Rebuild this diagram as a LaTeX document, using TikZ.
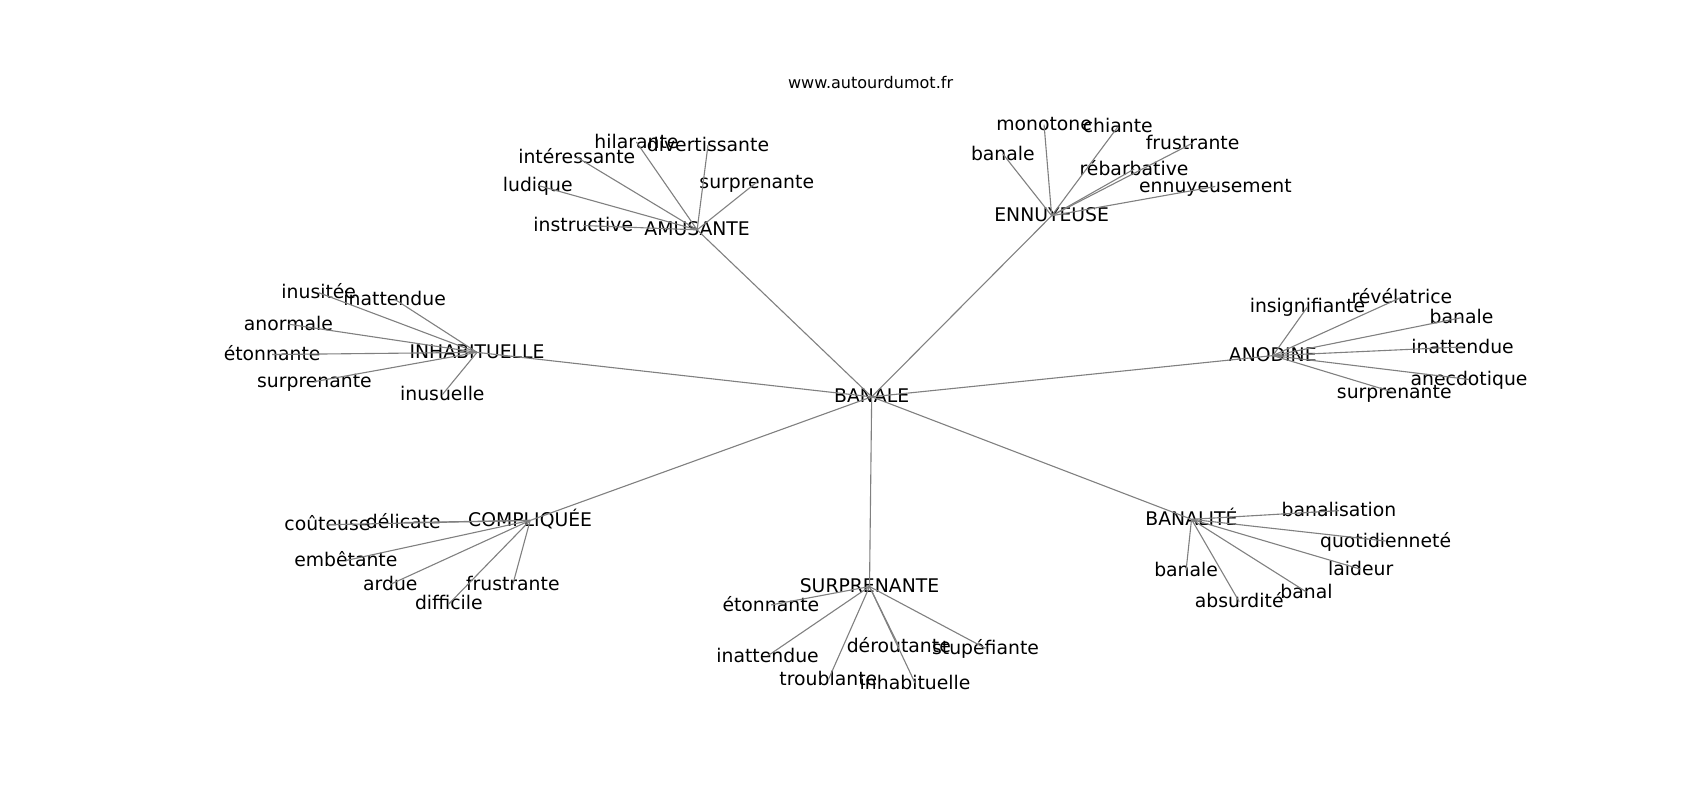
\documentclass[tikz,border=0pt]{standalone}
\usepackage{fontspec}
\setmainfont{DejaVu Sans}

\tikzstyle{word} = [inner sep=0pt, text height=1.12em, text depth=0.24em, font=\fontsize{13.6}{16}\selectfont]
\tikzstyle{head} = [inner sep=0pt, font=\fontsize{11.6}{14}\selectfont]
\tikzstyle{link} = [draw, black!50, line width=0.8pt]

\begin{document}
\begin{tikzpicture}[x=0.010842in, y=-0.010842in]

	\useasboundingbox (0,0) rectangle (1568,737.6);
	\node[head] (site) at (803,76) {www.autourdumot.fr};

	% Hubs
	\node[word] (banale) at (804,366) {BANALE};
	\node[word] (amusante) at (643,212) {AMUSANTE};
	\node[word] (ennuyeuse) at (970,199) {ENNUYEUSE};
	\node[word] (inhabituelle) at (440,325) {INHABITUELLE};
	\node[word] (anodine) at (1174,328) {ANODINE};
	\node[word] (compliquee) at (489,480) {COMPLIQUÉE};
	\node[word] (surprenante) at (802,541) {SURPRENANTE};
	\node[word] (banalite) at (1099,479) {BANALITÉ};
	\path[link] (banale.center) -- (amusante.center);
	\path[link] (banale.center) -- (ennuyeuse.center);
	\path[link] (banale.center) -- (inhabituelle.center);
	\path[link] (banale.center) -- (anodine.center);
	\path[link] (banale.center) -- (compliquee.center);
	\path[link] (banale.center) -- (surprenante.center);
	\path[link] (banale.center) -- (banalite.center);

	% Amusante
	\node[word] (am1) at (587,131) {hilarante};
	\node[word] (am2) at (653,134) {divertissante};
	\node[word] (am3) at (532,145) {intéressante};
	\node[word] (am4) at (496,171) {ludique};
	\node[word] (am5) at (698,168) {surprenante};
	\node[word] (am6) at (538,208) {instructive};
	\path[link] (am1.center) -- (amusante.center);
	\path[link] (am2.center) -- (amusante.center);
	\path[link] (am3.center) -- (amusante.center);
	\path[link] (am4.center) -- (amusante.center);
	\path[link] (am5.center) -- (amusante.center);
	\path[link] (am6.center) -- (amusante.center);

	% Ennuyeuse
	\node[word] (en1) at (963,115) {monotone};
	\node[word] (en2) at (1031,117) {chiante};
	\node[word] (en3) at (925,142) {banale};
	\node[word] (en4) at (1100,132) {frustrante};
	\node[word] (en5) at (1046,156) {rébarbative};
	\node[word] (en6) at (1121,172) {ennuyeusement};
	\path[link] (en1.center) -- (ennuyeuse.center);
	\path[link] (en2.center) -- (ennuyeuse.center);
	\path[link] (en3.center) -- (ennuyeuse.center);
	\path[link] (en4.center) -- (ennuyeuse.center);
	\path[link] (en5.center) -- (ennuyeuse.center);
	\path[link] (en6.center) -- (ennuyeuse.center);

	% Inhabituelle
	\node[word] (in1) at (294,270) {inusitée};
	\node[word] (in2) at (364,276) {inattendue};
	\node[word] (in3) at (266,299) {anormale};
	\node[word] (in4) at (251,327) {étonnante};
	\node[word] (in5) at (290,352) {surprenante};
	\node[word] (in6) at (408,364) {inusuelle};
	\path[link] (in1.center) -- (inhabituelle.center);
	\path[link] (in2.center) -- (inhabituelle.center);
	\path[link] (in3.center) -- (inhabituelle.center);
	\path[link] (in4.center) -- (inhabituelle.center);
	\path[link] (in5.center) -- (inhabituelle.center);
	\path[link] (in6.center) -- (inhabituelle.center);

	% Anodine
	\node[word] (an1) at (1206,283) {insignifiante};
	\node[word] (an2) at (1293,274) {révélatrice};
	\node[word] (an3) at (1348,293) {banale};
	\node[word] (an4) at (1349,320) {inattendue};
	\node[word] (an5) at (1355,350) {anecdotique};
	\node[word] (an6) at (1286,362) {surprenante};
	\path[link] (an1.center) -- (anodine.center);
	\path[link] (an2.center) -- (anodine.center);
	\path[link] (an3.center) -- (anodine.center);
	\path[link] (an4.center) -- (anodine.center);
	\path[link] (an5.center) -- (anodine.center);
	\path[link] (an6.center) -- (anodine.center);

	% Compliquee
	\node[word] (co1) at (302,484) {coûteuse};
	\node[word] (co2) at (372,482) {délicate};
	\node[word] (co3) at (319,517) {embêtante};
	\node[word] (co4) at (360,539) {ardue};
	\node[word] (co5) at (473,539) {frustrante};
	\node[word] (co6) at (414,557) {difficile};
	\path[link] (co1.center) -- (compliquee.center);
	\path[link] (co2.center) -- (compliquee.center);
	\path[link] (co3.center) -- (compliquee.center);
	\path[link] (co4.center) -- (compliquee.center);
	\path[link] (co5.center) -- (compliquee.center);
	\path[link] (co6.center) -- (compliquee.center);

	% Surprenante
	\node[word] (su1) at (711,558) {étonnante};
	\node[word] (su2) at (708,605) {inattendue};
	\node[word] (su3) at (764,627) {troublante};
	\node[word] (su4) at (829,596) {déroutante};
	\node[word] (su5) at (909,598) {stupéfiante};
	\node[word] (su6) at (844,630) {inhabituelle};
	\path[link] (su1.center) -- (surprenante.center);
	\path[link] (su2.center) -- (surprenante.center);
	\path[link] (su3.center) -- (surprenante.center);
	\path[link] (su4.center) -- (surprenante.center);
	\path[link] (su5.center) -- (surprenante.center);
	\path[link] (su6.center) -- (surprenante.center);

	% Banalite
	\node[word] (ba1) at (1235,471) {banalisation};
	\node[word] (ba2) at (1278,499) {quotidienneté};
	\node[word] (ba3) at (1094,526) {banale};
	\node[word] (ba4) at (1255,525) {laideur};
	\node[word] (ba5) at (1143,555) {absurdité};
	\node[word] (ba6) at (1205,546) {banal};
	\path[link] (ba1.center) -- (banalite.center);
	\path[link] (ba2.center) -- (banalite.center);
	\path[link] (ba3.center) -- (banalite.center);
	\path[link] (ba4.center) -- (banalite.center);
	\path[link] (ba5.center) -- (banalite.center);
	\path[link] (ba6.center) -- (banalite.center);

\end{tikzpicture}
\end{document}
